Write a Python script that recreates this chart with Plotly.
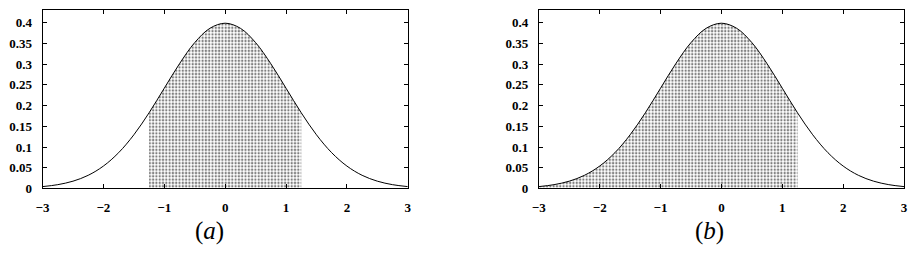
import plotly.graph_objects as go

# Curve values (density curve), x from -3 to 3 in steps of 0.25
x_vals = [-3.0, -2.75, -2.5, -2.25, -2.0, -1.75, -1.5, -1.25, -1.0, -0.75, -0.5, -0.25,
          0.0, 0.25, 0.5, 0.75, 1.0, 1.25, 1.5, 1.75, 2.0, 2.25, 2.5, 2.75, 3.0]
y_vals = [0.0044, 0.0091, 0.0175, 0.0317, 0.0540, 0.0863, 0.1295, 0.1826, 0.2420, 0.3011,
          0.3521, 0.3867, 0.3989, 0.3867, 0.3521, 0.3011, 0.2420, 0.1826, 0.1295, 0.0863,
          0.0540, 0.0317, 0.0175, 0.0091, 0.0044]

# Shaded intervals for panel (a) and (b)
shade_a = (-1.25, 1.25)
shade_b = (-3.0, 1.25)

x_ticks = [-3, -2, -1, 0, 1, 2, 3]
y_ticks = [0, 0.05, 0.1, 0.15, 0.2, 0.25, 0.3, 0.35, 0.4]
y_tick_text = ["0", "0.05", "0.1", "0.15", "0.2", "0.25", "0.3", "0.35", "0.4"]
panel_labels = ["(<i>a</i>)", "(<i>b</i>)"]

fig = go.Figure()

def subset(lo, hi):
    xs = [x for x in x_vals if lo - 1e-9 <= x <= hi + 1e-9]
    ys = [y for x, y in zip(x_vals, y_vals) if lo - 1e-9 <= x <= hi + 1e-9]
    return xs, ys

for i, (lo, hi) in enumerate([shade_a, shade_b]):
    xa = "x" if i == 0 else "x2"
    ya = "y" if i == 0 else "y2"
    xs, ys = subset(lo, hi)
    fig.add_trace(go.Scatter(
        x=xs, y=ys, mode="lines", line=dict(width=0, shape="spline"),
        fill="tozeroy", fillcolor="rgba(0,0,0,0)",
        fillpattern=dict(shape=".", fgcolor="black", bgcolor="rgba(0,0,0,0)",
                         size=3.3, solidity=0.4, fillmode="overlay"),
        xaxis=xa, yaxis=ya, showlegend=False, hoverinfo="skip"))
    fig.add_trace(go.Scatter(
        x=x_vals, y=y_vals, mode="lines", line=dict(color="black", width=1, shape="spline"),
        xaxis=xa, yaxis=ya, showlegend=False))

tickfont = dict(family="Liberation Serif", size=13, color="black", weight="bold")
axis_common = dict(showgrid=False, zeroline=False, showline=True, linecolor="black",
                   linewidth=1, mirror="ticks", ticks="inside", ticklen=4,
                   tickcolor="black", tickfont=tickfont)

fig.update_layout(
    width=911, height=256, margin=dict(l=0, r=0, t=0, b=0),
    paper_bgcolor="white", plot_bgcolor="white",
    xaxis=dict(domain=[0.0395, 0.4453], range=[-3, 3], tickvals=x_ticks,
               anchor="y", ticklabelstandoff=7, **axis_common),
    yaxis=dict(domain=[0.2402, 0.961], range=[0, 0.4316], tickvals=y_ticks,
               ticktext=y_tick_text, anchor="x", ticklabelstandoff=7, **axis_common),
    xaxis2=dict(domain=[0.5909, 0.9967], range=[-3, 3], tickvals=x_ticks,
                anchor="y2", ticklabelstandoff=7, **axis_common),
    yaxis2=dict(domain=[0.2402, 0.961], range=[0, 0.4316], tickvals=y_ticks,
                ticktext=y_tick_text, anchor="x2", ticklabelstandoff=7, **axis_common),
)

for xc, txt in zip([0.225, 0.781], panel_labels):
    fig.add_annotation(x=xc, y=0.068, xref="paper", yref="paper", text=txt,
                       xanchor="center", yanchor="middle",
                       showarrow=False, font=dict(family="Liberation Serif", size=25, color="black"))

fig.write_html("out.html")
